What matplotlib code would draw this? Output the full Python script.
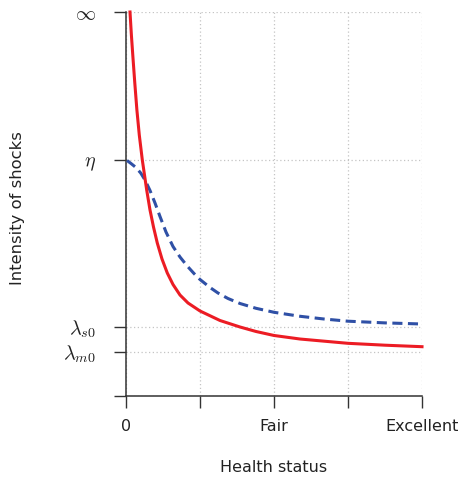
import matplotlib
matplotlib.use("Agg")
import matplotlib.pyplot as plt

# Health status (0 = worst, 1 = Excellent), intensity (0 = bottom, 1 = infinity)
red_x = [0.0135, 0.0182, 0.0236, 0.0297, 0.0368, 0.0449, 0.0551, 0.0699, 0.0811,
         0.0929, 0.1057, 0.1216, 0.1395, 0.1588, 0.1824, 0.2095, 0.25, 0.3176,
         0.3851, 0.4392, 0.5, 0.5878, 0.75, 0.875, 1.0]
red_y = [1.0, 0.9401, 0.8802, 0.8151, 0.7448, 0.6797, 0.6146, 0.5365, 0.4844,
         0.4401, 0.3984, 0.3568, 0.3203, 0.2904, 0.2630, 0.2422, 0.2214, 0.1966,
         0.1797, 0.1680, 0.1576, 0.1484, 0.1372, 0.1323, 0.1284]

blue_x = [0.0034, 0.0169, 0.0328, 0.0497, 0.0642, 0.0811, 0.0980, 0.1149, 0.1351,
          0.1588, 0.1824, 0.2061, 0.2297, 0.25, 0.2838, 0.3108, 0.3446, 0.3851,
          0.4392, 0.5, 0.5878, 0.6689, 0.75, 0.875, 1.0]
blue_y = [0.6133, 0.6055, 0.5956, 0.5807, 0.5625, 0.5352, 0.5026, 0.4674, 0.4271,
          0.3893, 0.3620, 0.3391, 0.3190, 0.3034, 0.2826, 0.2682, 0.2539, 0.2409,
          0.2284, 0.2180, 0.2076, 0.2005, 0.1948, 0.1904, 0.1875]

x_ticks = [0, 0.25, 0.5, 0.75, 1.0]
x_labels = ["0", "", "Fair", "", "Excellent"]
y_ticks = [0, 0.1146, 0.1797, 0.6146, 1.0]
y_labels = ["", r"$\lambda_{m\mathsf{0}}$", r"$\lambda_{s\mathsf{0}}$", r"$\eta$", r"$\infty$"]

plt.rcParams['mathtext.fontset'] = 'cm'
plt.rcParams['font.family'] = ['DejaVu Sans']

fig = plt.figure(figsize=(4.63, 4.79), dpi=100)
ax = fig.add_axes([126/463, 1-396/479, 296/463, 384/479])

ax.plot(blue_x, blue_y, color="#2F50A6", lw=2.2, dashes=(3.3, 1.8), zorder=3,
        dash_joinstyle="round")
ax.plot(red_x, red_y, color="#EC1C24", lw=2.2, zorder=4, clip_on=False,
        solid_joinstyle="round")

ax.set_xlim(0, 1)
ax.set_ylim(0, 1)
ax.set_xticks(x_ticks)
ax.set_xticklabels(x_labels)
ax.set_yticks(y_ticks)
ax.set_yticklabels(y_labels)

for s in ["top", "right"]:
    ax.spines[s].set_visible(False)
for s in ["left", "bottom"]:
    ax.spines[s].set_color("#333333")
    ax.spines[s].set_linewidth(1.1)

ax.tick_params(axis="both", direction="out", length=8.6, width=1.0, color="#333333")
ax.tick_params(axis="x", pad=8, labelsize=11.5, labelcolor="#222222")
ax.tick_params(axis="y", pad=13, labelsize=14.5, labelcolor="#222222")

ax.grid(True, color="#c4c4c4", linestyle=(0, (1, 2)), linewidth=0.9)
ax.set_axisbelow(True)

ax.set_xlabel("Health status", fontsize=11.5, labelpad=19, color="#222222")
ax.set_ylabel("Intensity of shocks", fontsize=11.8, color="#222222")
ax.yaxis.set_label_coords((25 - 126) / 296, 0.49)

fig.savefig("out.png", dpi=100)
